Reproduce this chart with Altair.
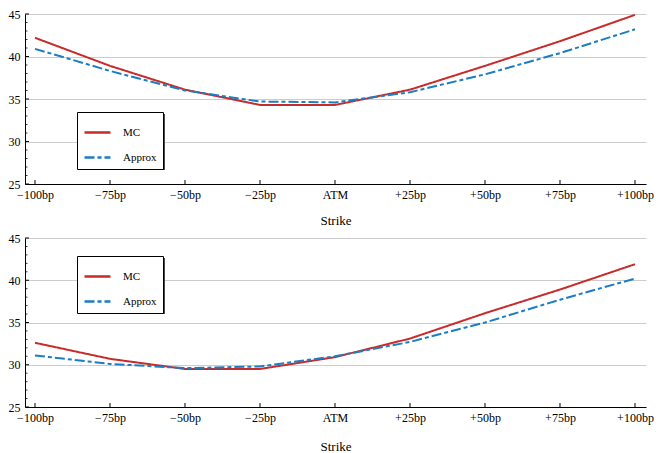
import json
import altair as alt
import pandas as pd

strike_bp = [-100, -75, -50, -25, 0, 25, 50, 75, 100]
strike_labels = ["\u2212100bp", "\u221275bp", "\u221250bp", "\u221225bp", "ATM", "+25bp", "+50bp", "+75bp", "+100bp"]
series_names = ["MC", "Approx"]
top_mc = [42.2, 38.9, 36.1, 34.3, 34.3, 36.1, 38.9, 41.8, 44.9]
top_approx = [40.9, 38.3, 36.0, 34.7, 34.6, 35.8, 37.9, 40.4, 43.2]
bot_mc = [32.6, 30.7, 29.5, 29.5, 30.9, 33.1, 36.1, 38.9, 41.9]
bot_approx = [31.1, 30.1, 29.6, 29.8, 31.0, 32.7, 35.0, 37.7, 40.2]
y_ticks = [25, 30, 35, 40, 45]
y_minor = [v for v in range(26, 45) if v % 5 != 0]

RED = "#C92A2A"
BLUE = "#1B7DC3"
FONT = "Liberation Serif"
W = 621
X_DOMAIN = [-103.333, 103.667]
label_expr = f"{json.dumps(strike_labels)}[indexof({json.dumps(strike_bp)}, datum.value)]"
BOX_W, BOX_H = 86, 56


def panel(mc, ap, lx, ly, h, title_pad):
    df = pd.DataFrame({
        "strike": strike_bp * 2,
        "v": mc + ap,
        "series": ["MC"] * len(strike_bp) + ["Approx"] * len(strike_bp),
    })
    xs = alt.Scale(domain=X_DOMAIN, nice=False, zero=False)
    ys = alt.Scale(domain=[25, 45], nice=False, zero=False)
    leg = alt.Legend(
        title=None, orient="none", legendX=lx, legendY=ly,
        strokeColor="black", fillColor="white", padding=6,
        symbolType="stroke", symbolSize=676, symbolStrokeWidth=2.5,
        labelFont=FONT, labelFontSize=11, labelColor="black",
        labelOffset=11, rowPadding=5, cornerRadius=0,
    )
    lines = alt.Chart(df).mark_line(strokeWidth=2).encode(
        x=alt.X("strike:Q", scale=xs,
                axis=alt.Axis(title="Strike", values=strike_bp, labelExpr=label_expr,
                              labelAngle=0, grid=False, ticks=False,
                              domainColor="black",
                              labelFont=FONT, labelFontSize=12, labelColor="black",
                              titleFont=FONT, titleFontSize=13, titleFontWeight="normal",
                              titleColor="black", titlePadding=title_pad, labelPadding=5)),
        y=alt.Y("v:Q", scale=ys,
                axis=alt.Axis(title=None, values=y_ticks, grid=True, gridColor="#cccccc",
                              domainColor="black", ticks=False,
                              labelFont=FONT, labelFontSize=12, labelColor="black",
                              labelPadding=5)),
        color=alt.Color("series:N", scale=alt.Scale(domain=series_names, range=[RED, BLUE]), legend=leg),
        strokeDash=alt.StrokeDash("series:N", scale=alt.Scale(domain=series_names, range=[[1, 0], [10, 3, 4, 3]]), legend=leg),
    )
    xticks = alt.Chart(pd.DataFrame({"t": strike_bp})).mark_rule(color="black", strokeWidth=1).encode(
        x=alt.X("t:Q", scale=xs), y=alt.value(h), y2=alt.value(h - 4)
    )
    yticks = alt.Chart(pd.DataFrame({"t": y_ticks})).mark_rule(color="black", strokeWidth=1).encode(
        y=alt.Y("t:Q", scale=ys), x=alt.value(0), x2=alt.value(4)
    )
    yminor = alt.Chart(pd.DataFrame({"t": y_minor})).mark_rule(color="black", strokeWidth=0.8).encode(
        y=alt.Y("t:Q", scale=ys), x=alt.value(0), x2=alt.value(2.5)
    )
    shadow = alt.Chart(alt.Data(values=[{"a": 1}])).mark_rect(color="#4a4a4a").encode(
        x=alt.value(lx + 2), x2=alt.value(lx + BOX_W + 2),
        y=alt.value(ly + 2), y2=alt.value(ly + BOX_H + 2)
    )
    return alt.layer(shadow, lines, xticks, yticks, yminor).properties(width=W, height=h)


top = panel(top_mc, top_approx, 52, 98, 170, 14)
bottom = panel(bot_mc, bot_approx, 52, 18, 169, 17)

chart = (
    alt.vconcat(top, bottom, spacing=5)
    .resolve_legend(color="independent", strokeDash="independent")
    .resolve_scale(color="independent", strokeDash="independent")
    .configure_view(strokeWidth=0)
    .properties(padding=0)
)
chart.save("out.html", embed_options={"renderer": "svg", "actions": False})
